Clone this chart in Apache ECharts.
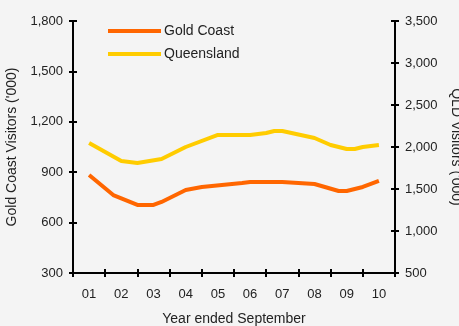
<!DOCTYPE html>
<html>
<head>
<meta charset="utf-8">
<script src="https://cdn.jsdelivr.net/npm/echarts@6/dist/echarts.min.js"></script>
<style>
  html, body { margin: 0; padding: 0; background: #f4f4f4; }
  #chart { width: 459px; height: 326px; }
</style>
</head>
<body>
<div id="chart"></div>
<script>
// year labels (year ended September)
var years = ['01', '02', '03', '04', '05', '06', '07', '08', '09', '10'];

// line vertices: x in year slots (0.5 = middle of 01), value
var gcPos = [0.5, 1.25, 2, 2.5, 2.75, 3.5, 4, 5.25, 5.5, 6.5, 7.5, 8.25, 8.5, 9, 9.5];
var gcVal = [883, 764, 705, 705, 723, 794, 812, 836, 842, 842, 830, 788, 788, 812, 848];

var qldPos = [0.5, 1.5, 2, 2.75, 3.5, 4.5, 5.5, 6, 6.25, 6.5, 7.5, 8, 8.5, 8.75, 9, 9.5];
var qldVal = [2048, 1833, 1810, 1857, 2000, 2143, 2143, 2167, 2190, 2190, 2107, 2024, 1976, 1976, 2000, 2024];

function pairs(xs, ys) {
  return xs.map(function (x, i) { return [x, ys[i]]; });
}

var chart = echarts.init(document.getElementById('chart'));
var font = 'Liberation Sans, Arial, sans-serif';
var black = '#000';
var txt = '#222';

function tick() {
  return { show: true, length: 4, lineStyle: { color: black, width: 2 } };
}

var box = { left: 73, right: 64, top: 21, bottom: 53, outerBoundsMode: 'none' };

var option = {
  backgroundColor: '#f4f4f4',
  textStyle: { fontFamily: font, color: txt },
  title: {
    text: 'Year ended September',
    left: 234,
    top: 312,
    textAlign: 'center',
    padding: 0,
    textStyle: { fontSize: 14, fontWeight: 'normal', color: txt, fontFamily: font }
  },
  // grid 0: the lines and y axes, grid 1: the x axis (same box)
  grid: [
    Object.assign({}, box),
    Object.assign({}, box)
  ],
  legend: {
    orient: 'vertical',
    left: 103,
    top: 19,
    itemWidth: 53,
    itemHeight: 4,
    itemGap: 9,
    icon: 'rect',
    textStyle: { fontSize: 14, color: txt, padding: [0, 0, 0, -2] },
    data: ['Gold Coast', 'Queensland']
  },
  xAxis: [
    {
      // scale for the lines
      gridIndex: 0,
      type: 'value',
      min: 0,
      max: 10,
      interval: 1,
      show: false
    },
    {
      // year labels
      gridIndex: 1,
      type: 'category',
      data: years,
      axisLine: { show: false, onZero: false },
      axisTick: { show: false },
      axisLabel: { fontSize: 13, color: txt, margin: 15 },
      splitLine: { show: false }
    },
    {
      // axis line + lower half of ticks
      gridIndex: 1,
      type: 'value',
      min: 0,
      max: 10,
      interval: 1,
      position: 'bottom',
      axisLine: { show: true, onZero: false, lineStyle: { color: black, width: 2 } },
      axisTick: tick(),
      axisLabel: { show: false },
      splitLine: { show: false }
    },
    {
      // upper half of ticks
      gridIndex: 1,
      type: 'value',
      min: 0,
      max: 10,
      interval: 1,
      position: 'bottom',
      offset: -4,
      axisLine: { show: false, onZero: false },
      axisTick: tick(),
      axisLabel: { show: false },
      splitLine: { show: false }
    }
  ],
  yAxis: [
    {
      gridIndex: 0,
      type: 'value',
      position: 'left',
      min: 300,
      max: 1800,
      interval: 300,
      name: "Gold Coast Visitors ('000)",
      nameLocation: 'middle',
      nameGap: 53,
      nameTextStyle: { fontSize: 14, color: txt },
      axisLine: { show: true, onZero: false, lineStyle: { color: black, width: 2 } },
      axisTick: tick(),
      axisLabel: { fontSize: 13, color: txt, margin: 10 },
      splitLine: { show: false }
    },
    {
      gridIndex: 0,
      type: 'value',
      position: 'right',
      min: 500,
      max: 3500,
      interval: 500,
      name: "QLD Visitors ('000)",
      nameLocation: 'middle',
      nameRotate: -90,
      nameGap: 53,
      nameTextStyle: { fontSize: 14, color: txt },
      axisLine: { show: true, onZero: false, lineStyle: { color: black, width: 2 } },
      axisTick: tick(),
      axisLabel: { fontSize: 13, color: txt, margin: 10 },
      splitLine: { show: false }
    },
    {
      // inner half of left ticks
      gridIndex: 1,
      type: 'value',
      position: 'left',
      offset: -4,
      min: 300,
      max: 1800,
      interval: 300,
      axisLine: { show: false, onZero: false },
      axisTick: tick(),
      axisLabel: { show: false },
      splitLine: { show: false }
    },
    {
      // inner half of right ticks
      gridIndex: 1,
      type: 'value',
      position: 'right',
      offset: -4,
      min: 500,
      max: 3500,
      interval: 500,
      axisLine: { show: false, onZero: false },
      axisTick: tick(),
      axisLabel: { show: false },
      splitLine: { show: false }
    }
  ],
  series: [
    {
      name: 'Gold Coast',
      type: 'line',
      xAxisIndex: 0,
      yAxisIndex: 0,
      data: pairs(gcPos, gcVal),
      symbol: 'none',
      lineStyle: { color: '#ff6600', width: 4 },
      itemStyle: { color: '#ff6600' }
    },
    {
      name: 'Queensland',
      type: 'line',
      xAxisIndex: 0,
      yAxisIndex: 1,
      data: pairs(qldPos, qldVal),
      symbol: 'none',
      lineStyle: { color: '#ffcc00', width: 4 },
      itemStyle: { color: '#ffcc00' }
    }
  ]
};

chart.setOption(option);
window.onresize = function () {
  chart.resize();
};
</script>
</body>
</html>
